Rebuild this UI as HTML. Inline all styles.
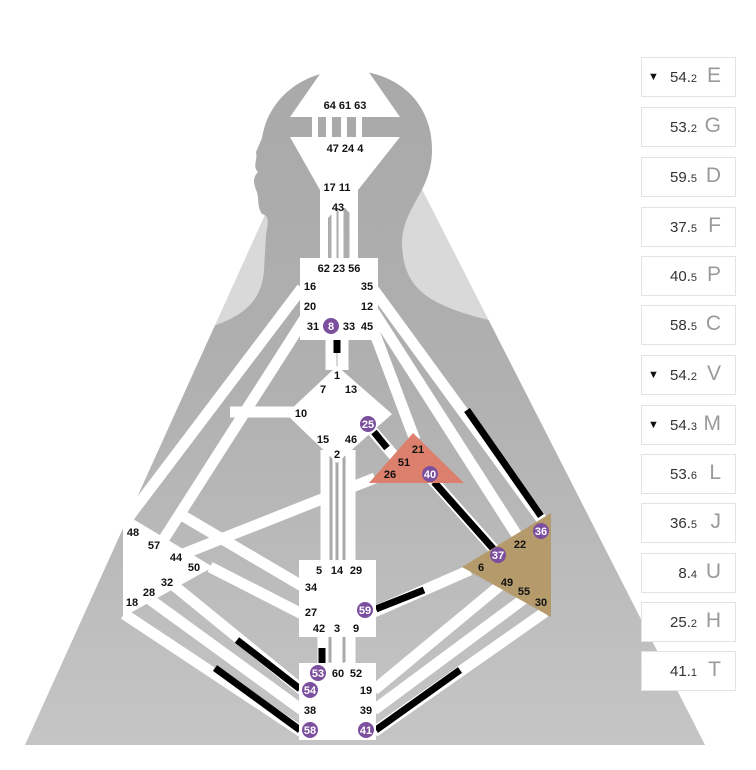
<!DOCTYPE html>
<html><head><meta charset="utf-8"><style>
body{margin:0;background:#fff;width:756px;height:770px;overflow:hidden;font-family:"Liberation Sans",sans-serif}
.box{position:absolute;left:641px;width:93px;height:38px;border:1px solid #e3e3e3;background:#fff;}
.box .n{position:absolute;right:38px;top:11px;font-size:15px;color:#333}
.box .n small{font-size:11px}
.box .l{position:absolute;right:14px;top:6px;font-size:21px;color:#9a9a9a}
.box .t{position:absolute;left:6px;top:13px;font-size:11px;color:#111}
</style></head><body>
<svg width="756" height="770" style="position:absolute;left:0;top:0">
<defs>
<linearGradient id="bg" x1="0" y1="0" x2="0" y2="1">
<stop offset="0" stop-color="#a9a9a9"/><stop offset="0.45" stop-color="#b0b0b0"/><stop offset="1" stop-color="#c6c6c6"/></linearGradient>
<clipPath id="tri"><polygon points="345,38 25,745 705,745"/><rect x="230" y="50" width="230" height="250"/></clipPath>
</defs>
<polygon points="345,38 25,745 705,745" fill="#d9d9d9"/>
<g clip-path="url(#tri)">
<path d="M0,430 L60,380 C120,350 160,340 200,330 C245,318 262,300 264,270 L266,235 C268,222 270,216 262,214 C256,205 260,198 256,190 C254,184 252,178 258,172 C252,166 258,160 256,152 L262,138 C268,100 300,72 345,70 C395,70 432,100 432,150 C432,190 405,205 402,240 C402,282 420,300 470,315 C520,330 600,335 756,345 L756,760 L0,760 Z" fill="url(#bg)"/>
</g>
<rect x="0" y="746" width="756" height="30" fill="#fff"/>
<g stroke-linecap="butt" fill="none">
<g stroke="#fff" stroke-width="6"><line x1="329" y1="115" x2="329" y2="140"/><line x1="344" y1="115" x2="344" y2="140"/><line x1="315" y1="115" x2="315" y2="140"/><line x1="359" y1="115" x2="359" y2="140"/></g>
<g stroke="#fff" stroke-width="5"><line x1="324" y1="185" x2="324" y2="260"/><line x1="334" y1="200" x2="334" y2="260"/><line x1="341" y1="200" x2="341" y2="260"/><line x1="352" y1="185" x2="352" y2="260"/></g>
<g stroke="#fff" stroke-width="11">
<line x1="302" y1="288" x2="125" y2="522"/>
<line x1="305" y1="318" x2="160" y2="545"/>
<line x1="230" y1="412" x2="295" y2="412"/>
<line x1="178" y1="513" x2="302" y2="586"/>
<line x1="210" y1="567" x2="302" y2="614"/>
<line x1="178" y1="556" x2="375" y2="478"/>
<line x1="172" y1="584" x2="302" y2="690"/>
<line x1="148" y1="598" x2="302" y2="710"/>
<line x1="124" y1="614" x2="302" y2="732"/>
<line x1="374" y1="690" x2="503" y2="583"/>
<line x1="374" y1="710" x2="525" y2="598"/>
<line x1="374" y1="732" x2="545" y2="612"/>
<line x1="374" y1="612" x2="470" y2="570"/>
<line x1="372" y1="326" x2="415" y2="440"/>
<line x1="374" y1="312" x2="520" y2="540"/>
<line x1="374" y1="290" x2="542" y2="520"/>
<line x1="370" y1="428" x2="402" y2="465"/>
<line x1="428" y1="475" x2="500" y2="556"/>
<line x1="326" y1="450" x2="326" y2="562"/>
<line x1="338" y1="450" x2="338" y2="562"/>
<line x1="350" y1="450" x2="350" y2="562"/>
<line x1="331" y1="338" x2="331" y2="370"/>
<line x1="343" y1="338" x2="343" y2="370"/>
<line x1="323" y1="635" x2="323" y2="666"/>
<line x1="337" y1="635" x2="337" y2="666"/>
<line x1="350" y1="635" x2="350" y2="666"/>
</g>
<g stroke="#a9a9a9" stroke-width="3">
<line x1="337" y1="455" x2="337" y2="560"/><line x1="331" y1="455" x2="331" y2="560"/><line x1="344" y1="455" x2="344" y2="560"/>
<line x1="330" y1="637" x2="330" y2="662"/><line x1="344" y1="637" x2="344" y2="662"/>
</g>
<g stroke="#000" stroke-width="7">
<line x1="337" y1="340" x2="337" y2="353"/>
<line x1="322" y1="648" x2="322" y2="664"/>
<line x1="237" y1="640" x2="300" y2="689"/>
<line x1="215" y1="668" x2="300" y2="730"/>
<line x1="376" y1="730" x2="460" y2="670"/>
<line x1="376" y1="609" x2="424" y2="590"/>
<line x1="434" y1="482" x2="497" y2="553"/>
<line x1="374" y1="432" x2="387" y2="448"/>
<line x1="467" y1="410" x2="541" y2="516"/>
</g>
</g>
<polygon points="345,38 400,117 290,117" fill="#fff"/>
<polygon points="290,137 400,137 358,190 358,200 320,200 320,190" fill="#fff"/>
<polygon points="320,187 358,187 358,258 354,258 354,218 345,208 337,208 328,218 328,258 320,258" fill="#fff"/>
<rect x="300" y="258" width="78" height="82" fill="#fff"/>
<polygon points="337,366 392,414 337,463 286,414" fill="#fff"/>
<polygon points="123,513 213,567 123,617" fill="#fff"/>
<rect x="299" y="560" width="77" height="77" fill="#fff"/>
<rect x="299" y="663" width="77" height="77" fill="#fff"/>
<polygon points="413,433 464,483 369,483" fill="#dc7f6c"/>
<polygon points="551,513 551,617 462,567" fill="#b59b6b"/>
<g font-family="Liberation Sans,sans-serif" font-weight="bold" font-size="11" fill="#111" text-anchor="middle">
<text x="345" y="109">64 61 63</text>
<text x="345" y="152">47 24  4</text>
<text x="337" y="191">17  11</text>
<text x="338" y="211">43</text>
<text x="339" y="272">62 23 56</text>
<text x="310" y="290">16</text><text x="367" y="290">35</text>
<text x="310" y="310">20</text><text x="367" y="310">12</text>
<text x="313" y="330">31</text><text x="349" y="330">33</text><text x="367" y="330">45</text>
<text x="337" y="379">1</text><text x="323" y="393">7</text><text x="351" y="393">13</text>
<text x="301" y="417">10</text><text x="323" y="443">15</text><text x="351" y="443">46</text><text x="337" y="458">2</text>
<text x="418" y="453">21</text><text x="404" y="466">51</text><text x="390" y="478">26</text>
<text x="520" y="548">22</text><text x="481" y="571">6</text><text x="507" y="586">49</text><text x="524" y="595">55</text><text x="541" y="606">30</text>
<text x="133" y="536">48</text><text x="154" y="549">57</text><text x="176" y="561">44</text><text x="194" y="571">50</text><text x="167" y="586">32</text><text x="149" y="596">28</text><text x="132" y="606">18</text>
<text x="319" y="574">5</text><text x="337" y="574">14</text><text x="356" y="574">29</text>
<text x="311" y="591">34</text><text x="311" y="616">27</text>
<text x="319" y="632">42</text><text x="337" y="632">3</text><text x="356" y="632">9</text>
<text x="338" y="677">60</text><text x="356" y="677">52</text>
<text x="366" y="694">19</text><text x="310" y="714">38</text><text x="366" y="714">39</text>
</g>
<g fill="#7b4f9d">
<circle cx="331" cy="326" r="8"/><circle cx="368" cy="424" r="8"/><circle cx="430" cy="474" r="8"/>
<circle cx="541" cy="531" r="8"/><circle cx="498" cy="555" r="8"/><circle cx="365" cy="610" r="8"/>
<circle cx="318" cy="673" r="8"/><circle cx="310" cy="690" r="8"/><circle cx="310" cy="730" r="8"/><circle cx="366" cy="730" r="8"/>
</g>
<g font-family="Liberation Sans,sans-serif" font-weight="bold" font-size="11" fill="#fff" text-anchor="middle">
<text x="331" y="330">8</text><text x="368" y="428">25</text><text x="430" y="478">40</text>
<text x="541" y="535">36</text><text x="498" y="559">37</text><text x="365" y="614">59</text>
<text x="318" y="677">53</text><text x="310" y="694">54</text><text x="310" y="734">58</text><text x="366" y="734">41</text>
</g>
</svg>
<div class="box" style="top:57px"><span class="t">▼</span><span class="n">54.<small>2</small></span><span class="l">E</span></div>
<div class="box" style="top:107px"><span class="n">53.<small>2</small></span><span class="l">G</span></div>
<div class="box" style="top:157px"><span class="n">59.<small>5</small></span><span class="l">D</span></div>
<div class="box" style="top:207px"><span class="n">37.<small>5</small></span><span class="l">F</span></div>
<div class="box" style="top:256px"><span class="n">40.<small>5</small></span><span class="l">P</span></div>
<div class="box" style="top:305px"><span class="n">58.<small>5</small></span><span class="l">C</span></div>
<div class="box" style="top:355px"><span class="t">▼</span><span class="n">54.<small>2</small></span><span class="l">V</span></div>
<div class="box" style="top:405px"><span class="t">▼</span><span class="n">54.<small>3</small></span><span class="l">M</span></div>
<div class="box" style="top:454px"><span class="n">53.<small>6</small></span><span class="l">L</span></div>
<div class="box" style="top:503px"><span class="n">36.<small>5</small></span><span class="l">J</span></div>
<div class="box" style="top:553px"><span class="n">8.<small>4</small></span><span class="l">U</span></div>
<div class="box" style="top:602px"><span class="n">25.<small>2</small></span><span class="l">H</span></div>
<div class="box" style="top:651px"><span class="n">41.<small>1</small></span><span class="l">T</span></div>
</body></html>
